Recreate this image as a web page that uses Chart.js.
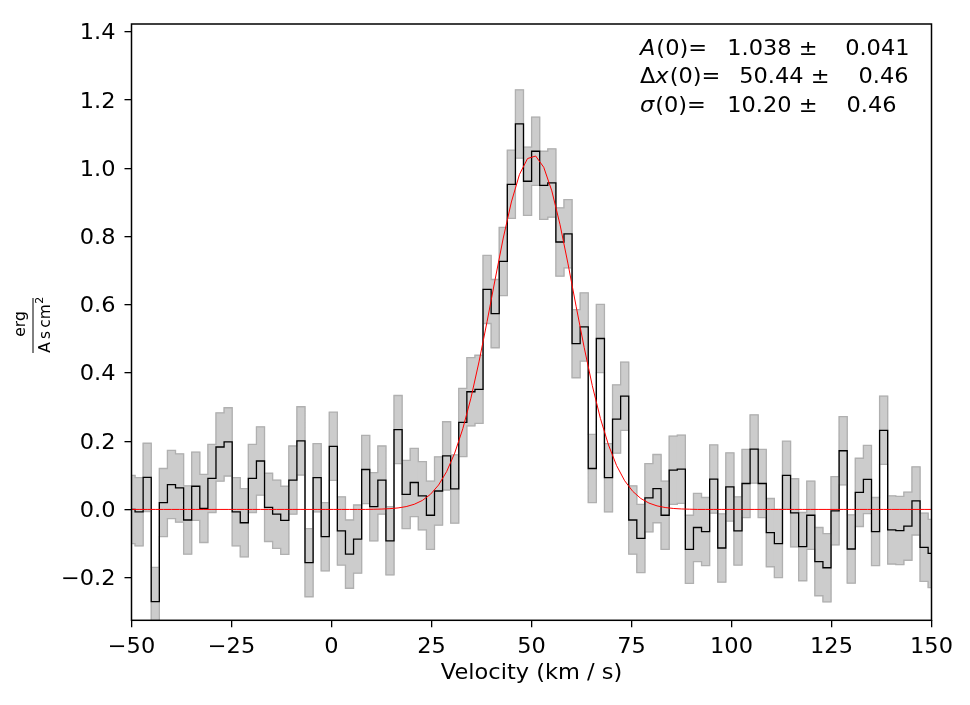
<!DOCTYPE html>
<html>
<head>
<meta charset="utf-8">
<script src="https://cdn.jsdelivr.net/npm/chart.js@4.4.1/dist/chart.umd.min.js"></script>
<style>
    html, body { margin: 0; padding: 0; background: #fff; }
    #wrap { width: 970px; height: 705px; }
</style>
</head>
<body>
<div id="wrap"><canvas id="spec" width="970" height="705"></canvas></div>
<script>
// channel centres (km/s)
const velocity = [
    -50.12, -48.10, -46.08, -44.05, -42.03, -40.01, -37.98, -35.96, -33.94, -31.91,
    -29.89, -27.87, -25.84, -23.82, -21.80, -19.78, -17.75, -15.73, -13.71, -11.68,
    -9.66, -7.64, -5.61, -3.59, -1.57, 0.46, 2.48, 4.50, 6.53, 8.55,
    10.57, 12.60, 14.62, 16.64, 18.67, 20.69, 22.71, 24.74, 26.76, 28.78,
    30.80, 32.83, 34.85, 36.87, 38.90, 40.92, 42.94, 44.97, 46.99, 49.01,
    51.04, 53.06, 55.08, 57.11, 59.13, 61.15, 63.18, 65.20, 67.22, 69.25,
    71.27, 73.29, 75.32, 77.34, 79.36, 81.38, 83.41, 85.43, 87.45, 89.48,
    91.50, 93.52, 95.55, 97.57, 99.59, 101.62, 103.64, 105.66, 107.69, 109.71,
    111.73, 113.76, 115.78, 117.80, 119.82, 121.85, 123.87, 125.89, 127.92, 129.94,
    131.96, 133.99, 136.01, 138.03, 140.06, 142.08, 144.10, 146.13, 148.15, 150.17
];

// observed flux per channel
const flux = [
    0.000, -0.007, 0.094, -0.270, 0.020, 0.073, 0.063, -0.031, 0.068, 0.003,
    0.091, 0.183, 0.198, -0.007, -0.039, 0.091, 0.142, 0.006, -0.014, -0.032,
    0.086, 0.201, -0.156, 0.093, -0.080, 0.185, -0.063, -0.131, -0.087, 0.117,
    0.008, 0.086, -0.092, 0.234, 0.044, 0.079, 0.040, -0.017, 0.054, 0.157,
    0.060, 0.255, 0.345, 0.352, 0.645, 0.574, 0.727, 0.953, 1.130, 0.962,
    1.050, 0.950, 0.957, 0.784, 0.808, 0.486, 0.535, 0.120, 0.501, 0.093,
    0.265, 0.332, -0.031, -0.085, 0.034, 0.061, -0.017, 0.115, 0.118, -0.117,
    -0.053, -0.065, 0.089, -0.113, 0.066, -0.063, 0.076, 0.177, 0.076, -0.068,
    -0.100, 0.100, -0.010, -0.109, -0.017, -0.153, -0.171, -0.004, 0.172, -0.116,
    0.050, 0.088, -0.065, 0.232, -0.060, -0.062, -0.049, 0.025, -0.111, -0.129
];

// 1-sigma uncertainty (same for every channel)
const fluxErr = 0.1;

// gaussian fit, read at the channel centres
const model = [
    0, 0, 0, 0, 0, 0, 0, 0, 0, 0,
    0, 0, 0, 0, 0, 0, 0, 0, 0, 0,
    0, 0, 0, 0, 0, 0, 0, 0, 0, 0,
    0.0005, 0.0011, 0.0023, 0.0044, 0.0083, 0.0151, 0.0263, 0.0443, 0.0714, 0.1107,
    0.1651, 0.2366, 0.3261, 0.4323, 0.5510, 0.6751, 0.7955, 0.9013, 0.9819, 1.0286,
    1.0360, 1.0030, 0.9339, 0.8360, 0.7197, 0.5957, 0.4741, 0.3628, 0.2670, 0.1889,
    0.1285, 0.0841, 0.0529, 0.0320, 0.0186, 0.0104, 0.0056, 0.0029, 0.0014, 0.0007,
    0, 0, 0, 0, 0, 0, 0, 0, 0, 0,
    0, 0, 0, 0, 0, 0, 0, 0, 0, 0,
    0, 0, 0, 0, 0, 0, 0, 0, 0, 0
];

const xTicks = [-50, -25, 0, 25, 50, 75, 100, 125, 150];
const yTicks = [-0.2, 0.0, 0.2, 0.4, 0.6, 0.8, 1.0, 1.2, 1.4];

// fit results shown top right
const fitRows = [
    { pre: '', name: 'A', post: '(0)=', value: '1.038 \u00b1', err: '0.041' },
    { pre: '\u0394', name: 'x', post: '(0)=', value: '50.44 \u00b1', err: '0.46' },
    { pre: '', name: '\u03c3', post: '(0)=', value: '10.20 \u00b1', err: '0.46' }
];

const FONT = '"DejaVu Sans", sans-serif';
const SX = 1.07; // reference glyphs run a little wide
const minus = s => s.replace('-', '\u2212');

const pts = arr => velocity.map((v, i) => ({ x: v, y: arr[i] }));

function text(ctx, str, x, y, align, font) {
    ctx.save();
    ctx.font = font;
    ctx.textAlign = align;
    ctx.textBaseline = 'alphabetic';
    ctx.translate(x, y);
    ctx.scale(SX, 1);
    ctx.fillText(str, 0, 0);
    const w = ctx.measureText(str).width * SX;
    ctx.restore();
    return w;
}

const decorations = {
    id: 'decorations',
    afterDatasetsDraw(chart) {
        const ctx = chart.ctx;
        const a = chart.chartArea;
        const xs = chart.scales.x;
        const ys = chart.scales.y;
        const f21 = '21px ' + FONT;
        ctx.save();
        ctx.fillStyle = '#000';

        // frame
        ctx.strokeStyle = '#000';
        ctx.lineWidth = 1.5;
        ctx.strokeRect(a.left, a.top, a.right - a.left, a.bottom - a.top);

        // tick labels
        xTicks.forEach(v => text(ctx, minus(String(v)), xs.getPixelForValue(v), 653, 'center', f21));
        yTicks.forEach(v => text(ctx, minus(v.toFixed(1)), 115.5, ys.getPixelForValue(v) + 7.5, 'right', f21));

        // fit annotation
        const rowY = [54.5, 83, 111.5];
        const valEnd = [817.5, 829.5, 817.5];
        const errEnd = [909.5, 908.5, 896.5];
        fitRows.forEach((r, i) => {
            let x = 640;
            if (r.pre) x += text(ctx, r.pre, x, rowY[i], 'left', f21);
            x += text(ctx, r.name, x, rowY[i], 'left', 'italic ' + f21);
            text(ctx, r.post, x + 1, rowY[i], 'left', f21);
            text(ctx, r.value, valEnd[i], rowY[i], 'right', f21);
            text(ctx, r.err, errEnd[i], rowY[i], 'right', f21);
        });

        // x title
        text(ctx, 'Velocity (km / s)', (a.left + a.right) / 2, 679, 'center', f21);

        // y title: erg / (A s cm^2)
        ctx.translate(33, 325);
        ctx.rotate(-Math.PI / 2);
        ctx.lineWidth = 1;
        ctx.beginPath();
        ctx.moveTo(-28, 0);
        ctx.lineTo(27, 0);
        ctx.stroke();
        ctx.font = '15.5px ' + FONT;
        ctx.textAlign = 'center';
        ctx.textBaseline = 'alphabetic';
        ctx.fillText('erg', 1, -8);
        ctx.textAlign = 'left';
        const den = 'A\u2009s\u2009cm';
        const dw = ctx.measureText(den).width;
        ctx.font = '11px ' + FONT;
        const sw = ctx.measureText('2').width;
        const x0 = -(dw + sw) / 2;
        ctx.font = '15.5px ' + FONT;
        ctx.fillText(den, x0, 16.5);
        ctx.font = '11px ' + FONT;
        ctx.fillText('2', x0 + dw + 0.5, 10);

        ctx.restore();
    }
};

const tickGrid = { drawOnChartArea: false, drawTicks: true, tickLength: 7, color: '#000', lineWidth: 1.3, offset: false };

new Chart(document.getElementById('spec'), {
    type: 'line',
    data: {
        datasets: [
            {
                // error band body
                type: 'bar',
                data: velocity.map((v, i) => ({ x: v, y: [flux[i] - fluxErr, flux[i] + fluxErr] })),
                backgroundColor: '#cccccc',
                borderWidth: 0,
                barThickness: 8.4,
                grouped: false,
                order: 5
            },
            {
                data: pts(flux.map(f => f + fluxErr)),
                stepped: 'middle',
                borderColor: '#b0b0b0',
                borderWidth: 1.3,
                fill: false,
                pointRadius: 0,
                order: 4
            },
            {
                data: pts(flux.map(f => f - fluxErr)),
                stepped: 'middle',
                borderColor: '#b0b0b0',
                borderWidth: 1.3,
                fill: false,
                pointRadius: 0,
                order: 3
            },
            {
                data: pts(flux),
                stepped: 'middle',
                borderColor: '#000',
                borderWidth: 1.3,
                fill: false,
                pointRadius: 0,
                order: 2
            },
            {
                data: pts(model),
                borderColor: '#ff0000',
                borderWidth: 1,
                fill: false,
                pointRadius: 0,
                tension: 0,
                order: 1
            }
        ]
    },
    options: {
        responsive: false,
        animation: false,
        devicePixelRatio: 1,
        layout: { padding: { left: 0, right: 38.5, top: 24, bottom: 0 } },
        plugins: {
            legend: { display: false },
            tooltip: { enabled: false }
        },
        scales: {
            x: {
                type: 'linear',
                min: -50,
                max: 150,
                offset: false,
                afterFit: s => { s.height = 705 - 620.3; },
                afterBuildTicks: s => { s.ticks = xTicks.map(v => ({ value: v })); },
                border: { display: false },
                grid: tickGrid,
                ticks: { display: false }
            },
            y: {
                type: 'linear',
                min: -0.325,
                max: 1.423,
                afterFit: s => { s.width = 131.5; },
                afterBuildTicks: s => { s.ticks = yTicks.map(v => ({ value: v })); },
                border: { display: false },
                grid: tickGrid,
                ticks: { display: false }
            }
        }
    },
    plugins: [decorations]
});
</script>
</body>
</html>
